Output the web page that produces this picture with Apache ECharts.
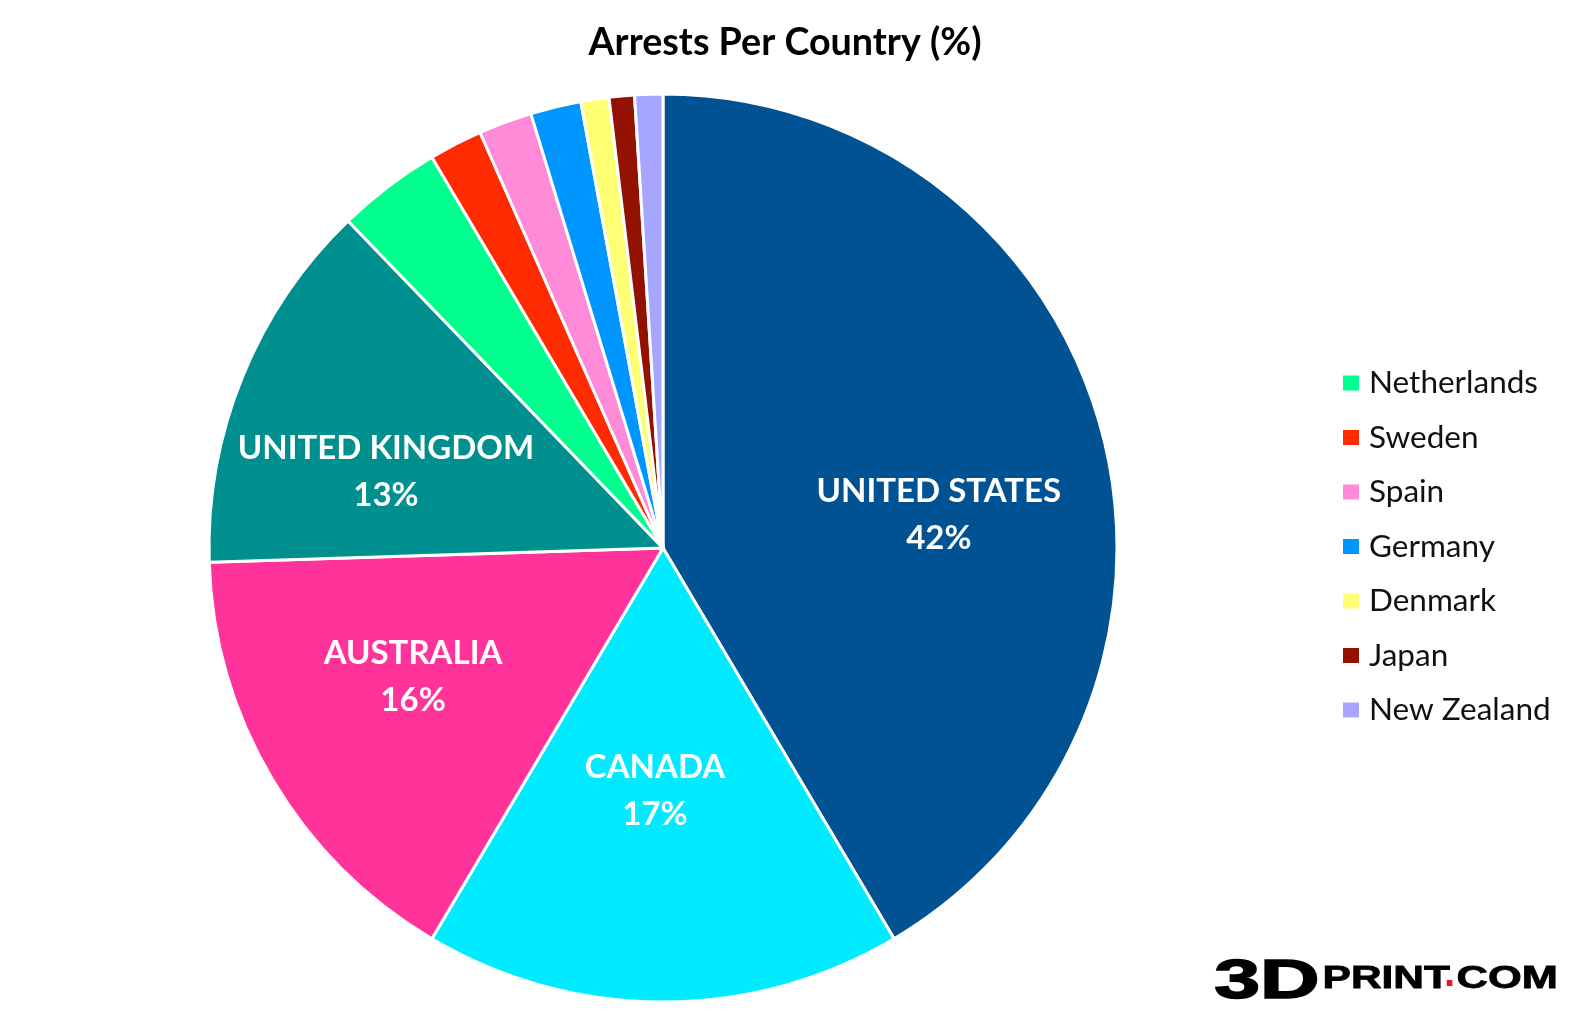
<!DOCTYPE html>
<html>
<head>
<meta charset="utf-8">
<style>
html, body { margin: 0; padding: 0; background: #fff; }
#chart { width: 1574px; height: 1028px; }
</style>
<script src="https://cdn.jsdelivr.net/npm/echarts@6/dist/echarts.min.js"></script>
</head>
<body>
<div id="chart"></div>
<script>
var countries = ['UNITED STATES', 'CANADA', 'AUSTRALIA', 'UNITED KINGDOM', 'Netherlands', 'Sweden', 'Spain', 'Germany', 'Denmark', 'Japan', 'New Zealand'];
var arrests = [41.5, 17, 16, 13.3, 3.7, 1.9, 1.9, 1.8, 1, 0.9, 1];
var colors = ['#005293', '#00EBFF', '#FF3399', '#008F8F', '#00FF8F', '#FF2A00', '#FF8AD8', '#0096FF', '#FFFF73', '#931100', '#A6A6FF'];
var legendNames = countries.slice(4);

// labels were moved by hand in the original, so nudge them from the default spot
var labelNudge = { 'UNITED STATES': [54, 28], 'CANADA': [-8, 13], 'AUSTRALIA': [-52, 12], 'UNITED KINGDOM': [-64, 11] };

var seriesData = [];
for (var i in countries) {
    var isBig = labelNudge[countries[i]] !== undefined;
    seriesData.push({
        name: countries[i],
        value: arrests[i],
        itemStyle: { color: colors[i] },
        label: { show: isBig, offset: isBig ? labelNudge[countries[i]] : [0, 0] }
    });
}

var font = 'Lato';
var myChart = echarts.init(document.getElementById('chart'), null, { renderer: 'canvas' });
myChart.setOption({
    backgroundColor: '#fff',
    animation: false,
    title: {
        text: 'Arrests Per Country (%)',
        left: 780,
        top: 19,
        textAlign: 'center',
        textStyle: { fontFamily: font, fontSize: 37.7, fontWeight: 'bold', color: '#000' }
    },
    legend: {
        data: legendNames,
        orient: 'vertical',
        left: 1336,
        top: 360,
        icon: 'rect',
        itemWidth: 18,
        itemHeight: 17,
        itemGap: 18.5,
        textStyle: { fontFamily: font, fontSize: 31.5, color: '#111', lineHeight: 36, padding: [0, 0, 0, 4] }
    },
    series: [{
        type: 'pie',
        center: [663, 548],
        radius: [0, 454],
        startAngle: 90,
        clockwise: true,
        data: seriesData,
        itemStyle: { borderColor: '#fff', borderWidth: 3 },
        label: {
            position: 'inside',
            formatter: function (p) { return p.name + '\n' + Math.round(p.value) + '%'; },
            fontFamily: font,
            fontSize: 33,
            fontWeight: 'bold',
            lineHeight: 47,
            color: '#fff',
            align: 'center'
        },
        labelLine: { show: false },
        emphasis: { disabled: true }
    }],
    graphic: [
        { type: 'text', left: 1213, top: 955, scaleX: 1.5, style: { text: '3D', fontFamily: 'Liberation Sans', fontWeight: 'bold', fontSize: 55, fill: '#000', stroke: '#000', lineWidth: 1.5 } },
        { type: 'text', left: 1322, top: 964, scaleX: 1.37, style: { text: 'PRINT', fontFamily: 'Liberation Sans', fontWeight: 'bold', fontSize: 31, fill: '#000', stroke: '#000', lineWidth: 0.8 } },
        { type: 'text', left: 1444, top: 955, style: { text: '.', fontFamily: 'Liberation Sans', fontWeight: 'bold', fontSize: 40, fill: '#E11B22' } },
        { type: 'text', left: 1456, top: 964, scaleX: 1.4, style: { text: 'COM', fontFamily: 'Liberation Sans', fontWeight: 'bold', fontSize: 31, fill: '#000', stroke: '#000', lineWidth: 0.8 } }
    ]
});
</script>
</body>
</html>
